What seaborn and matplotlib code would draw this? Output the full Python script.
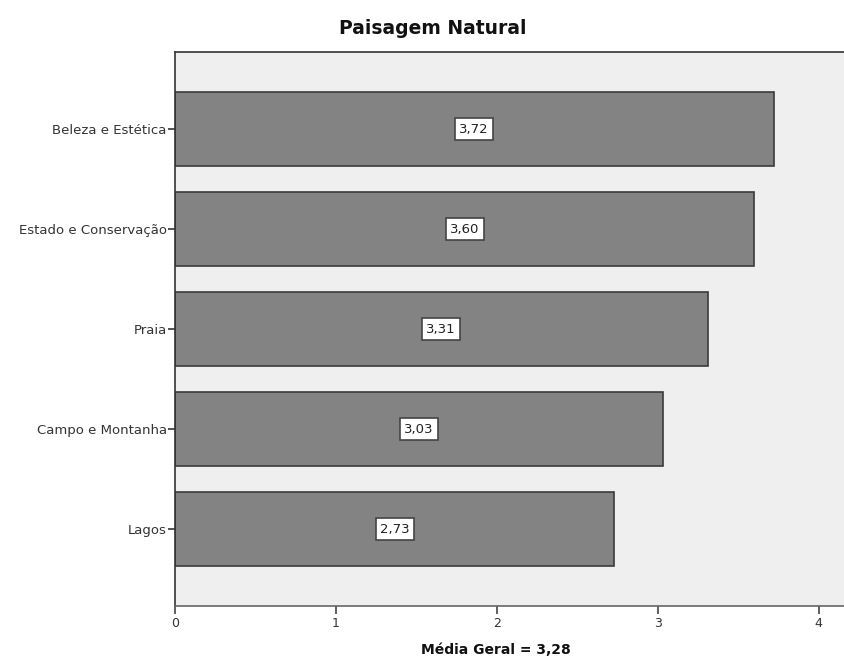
import matplotlib
matplotlib.use("Agg")
import matplotlib.pyplot as plt
import seaborn as sns
import pandas as pd

categories = ["Beleza e Estética", "Estado e Conservação", "Praia", "Campo e Montanha", "Lagos"]
values = [3.72, 3.60, 3.31, 3.03, 2.73]
x_ticks = [0, 1, 2, 3, 4]
title = "Paisagem Natural"
xlabel = "Média Geral = 3,28"

df = pd.DataFrame({"categoria": categories, "media": values})

sns.set_style("white")
plt.rcParams["font.family"] = ["DejaVu Sans"]

W, H = 844, 660
fig = plt.figure(figsize=(W / 100, H / 100), dpi=100)
ax = fig.add_axes([175 / W, 1 - 606 / H, (W - 175) / W, (606 - 52) / H])
ax.set_facecolor("#efefef")

sns.barplot(data=df, y="categoria", x="media", orient="h", color="#838383",
            saturation=1, width=0.74, edgecolor="#3a3a3a", linewidth=1.2, ax=ax)

for i, v in enumerate(values):
    ax.text(v / 2, i, f"{v:.2f}".replace(".", ","), ha="center", va="center",
            fontsize=9.5, color="#222222",
            bbox=dict(boxstyle="square,pad=0.32", facecolor="white",
                      edgecolor="#444444", linewidth=1.2))

ax.set_xlim(0, (W - 175) / 160.9)
ax.set_ylim(len(categories) - 1 + 0.77, -0.77)
ax.set_xticks(x_ticks)
ax.set_xticklabels([str(t) for t in x_ticks])
ax.set_ylabel("")
ax.set_xlabel("")
fig.text(496 / W, 1 - 650 / H, xlabel, ha="center", va="center",
         fontsize=10, fontweight="bold", color="#111111")
fig.text(433 / W, 1 - 29 / H, title, ha="center", va="center",
         fontsize=13.5, fontweight="bold", color="#111111")

for side in ["left", "bottom", "top"]:
    ax.spines[side].set_visible(True)
    ax.spines[side].set_color("#333333")
    ax.spines[side].set_linewidth(1.2)
ax.spines["right"].set_visible(False)
ax.spines["bottom"].set_color("#666666")

ax.tick_params(axis="y", which="major", left=True, length=5, width=1.2,
               color="#333333", labelsize=9.5, labelcolor="#333333", pad=1)
ax.tick_params(axis="x", which="major", bottom=True, length=6, width=1.2,
               color="#444444", labelsize=9, labelcolor="#333333", pad=2)

fig.savefig("out.png", dpi=100)
